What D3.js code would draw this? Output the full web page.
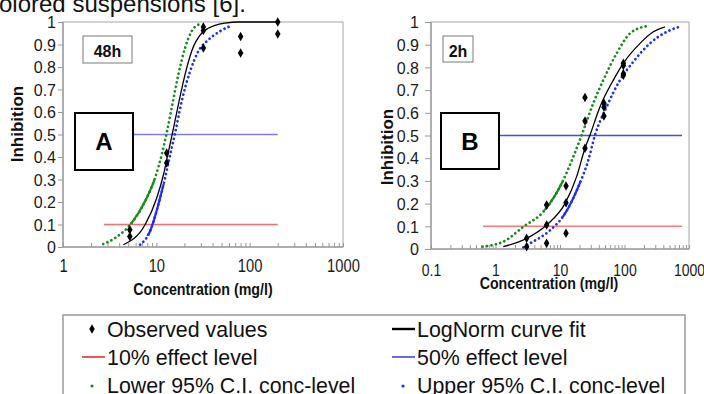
<!DOCTYPE html>
<html>
<head>
<meta charset="utf-8">
<script src="https://cdn.jsdelivr.net/npm/d3@7"></script>
<style>
  body { margin: 0; background: #fff; }
  svg { display: block; font-family: Arial, "Liberation Sans", Helvetica, sans-serif; }
</style>
</head>
<body>
<svg id="chart" width="704" height="394"></svg>
<script>
// ---- data ----
const yTicks = [0, 0.1, 0.2, 0.3, 0.4, 0.5, 0.6, 0.7, 0.8, 0.9, 1];
const xTicksA = [1, 10, 100, 1000];
const xTicksB = [0.1, 1, 10, 100, 1000];
const effectLevels = [0.1, 0.5];
const effectRangeA = [2.75, 200];
const effectRangeB = [0.64, 780];

// panel A (48h): [concentration, inhibition]
const observedA = [[5.2, 0.077], [5.2, 0.047], [12.9, 0.418], [12.9, 0.373], [31.9, 0.978],
  [31.9, 0.962], [31.9, 0.884], [80, 0.936], [80, 0.862], [200, 1.0], [200, 0.947]];
const fitA = [[4.43, 0.01], [7.57, 0.099], [10.1, 0.218], [11.9, 0.32], [13.5, 0.425], [14.9, 0.507],
  [17.2, 0.632], [20.3, 0.766], [23.9, 0.87], [30.7, 0.951], [36, 0.972], [42.6, 0.985],
  [55, 0.995], [75.7, 1.0], [200, 1.0]];
const lowerA = [[2.7, 0.013], [3.61, 0.04], [5.44, 0.107], [7.57, 0.203], [9.68, 0.307], [11.4, 0.41],
  [12.9, 0.507], [14.6, 0.618], [17.2, 0.766], [20.3, 0.884], [23.9, 0.959], [28.9, 0.99]];
const upperA = [[6.69, 0.01], [8.56, 0.07], [10.5, 0.188], [12.4, 0.307], [14.6, 0.44], [15.9, 0.507],
  [18.7, 0.648], [23, 0.781], [28.2, 0.87], [36.1, 0.921], [48.2, 0.959], [64.3, 0.985]];

// panel B (2h)
const observedB = [[3.04, 0.01], [3.04, 0.047], [6.2, 0.025], [6.2, 0.106], [6.2, 0.194],
  [12.4, 0.069], [12.4, 0.204], [12.4, 0.278], [24.4, 0.444], [24.4, 0.564], [24.4, 0.667],
  [48, 0.642], [48, 0.625], [48, 0.586], [96, 0.818], [96, 0.808], [96, 0.772], [96, 0.765]];
const fitB = [[1.32, 0.01], [3.04, 0.047], [6.2, 0.106], [12, 0.201], [18.1, 0.319], [24.4, 0.444],
  [29.2, 0.502], [41.7, 0.627], [67.1, 0.744], [95.8, 0.818], [174, 0.906], [280, 0.957], [425, 0.979]];
const lowerB = [[0.63, 0.01], [0.98, 0.02], [1.32, 0.032], [2.7, 0.098], [5.5, 0.164], [10.6, 0.289],
  [16.1, 0.407], [21.7, 0.502], [32.8, 0.642], [46.9, 0.744], [75.7, 0.862], [122, 0.95], [221, 0.982]];
const upperB = [[2.7, 0.007], [3.43, 0.025], [6.59, 0.076], [12, 0.157], [19.2, 0.274], [27.5, 0.392],
  [34.9, 0.502], [53, 0.627], [85.1, 0.744], [137, 0.825], [248, 0.906], [478, 0.96], [771, 0.982]];

const legendLabels = ['Observed values', 'LogNorm curve fit', '10% effect level',
  '50% effect level', 'Lower 95% C.I. conc-level', 'Upper 95% C.I. conc-level'];

// ---- drawing ----
const svg = d3.select('#chart');
const FONT = 'Arial, "Liberation Sans", Helvetica, sans-serif';
let clipId = 0;

// caption of the page cut at the top
svg.append('text').attr('x', -13).attr('y', 12)
  .attr('font-size', 24).attr('fill', '#111')
  .text('colored suspensions [6].');

function minorTicks(domain) {
  const out = [];
  for (let e = Math.log10(domain[0]); e < Math.log10(domain[1]); e++) {
    for (let m = 1; m < 10; m++) out.push(m * Math.pow(10, e));
  }
  out.push(domain[1]);
  return out;
}

function drawPanel(p) {
  const x = d3.scaleLog().domain(p.xDomain).range([p.left, p.right]);
  const y = d3.scaleLinear().domain([0, 1]).range([p.bottom, p.top]);
  const g = svg.append('g');

  // frame
  g.append('rect').attr('x', p.left).attr('y', p.top)
    .attr('width', p.right - p.left).attr('height', p.bottom - p.top)
    .attr('fill', 'none').attr('stroke', '#a6a6a6').attr('stroke-width', 1);
  g.append('line').attr('x1', p.left).attr('x2', p.right).attr('y1', p.bottom).attr('y2', p.bottom)
    .attr('stroke', '#8a8a8a');
  g.append('line').attr('x1', p.left).attr('x2', p.left).attr('y1', p.top).attr('y2', p.bottom)
    .attr('stroke', '#8a8a8a');

  // x ticks (inside, log minors)
  const xTickAxis = g.append('g').attr('transform', `translate(0,${p.bottom})`)
    .call(d3.axisBottom(x).tickValues(minorTicks(p.xDomain)).tickSize(-4).tickFormat(''));
  xTickAxis.select('.domain').remove();
  xTickAxis.selectAll('line').attr('stroke', '#999');

  // x labels
  const xLab = g.append('g').attr('transform', `translate(0,${p.bottom})`)
    .call(d3.axisBottom(x).tickValues(p.xTicks).tickSize(0).tickFormat(d => String(d)));
  xLab.select('.domain').remove();
  xLab.selectAll('text')
    .attr('y', p.xLabelBase - p.bottom).attr('dy', 0)
    .attr('transform', `scale(${p.xLabelScale},1)`)
    .attr('font-size', p.xLabelSize).attr('font-family', FONT).attr('fill', '#1a1a1a');

  // y axis
  const yAx = g.append('g').attr('transform', `translate(${p.left},0)`)
    .call(d3.axisLeft(y).tickValues(yTicks).tickSize(p.yTickSize).tickPadding(p.yPad)
      .tickFormat(d => String(+d.toFixed(1))));
  yAx.select('.domain').remove();
  yAx.selectAll('line').attr('stroke', '#999');
  yAx.selectAll('text').attr('font-size', 16).attr('font-family', FONT).attr('fill', '#1a1a1a')
    .attr('dy', '0.36em');

  // axis titles
  g.append('text')
    .attr('transform', `translate(${p.xTitle[0]},${p.xTitle[1]}) scale(${p.xTitleScale},1)`)
    .attr('text-anchor', 'middle').attr('font-weight', 'bold')
    .attr('font-size', p.xTitleSize).attr('fill', '#111')
    .text('Concentration (mg/l)');
  g.append('text')
    .attr('transform', `translate(${p.yTitle[0]},${p.yTitle[1]}) rotate(-90)`)
    .attr('text-anchor', 'middle').attr('font-weight', 'bold')
    .attr('font-size', 17).attr('fill', '#111')
    .text('Inhibition');

  // effect levels
  g.selectAll('line.level').data(effectLevels).join('line').attr('class', 'level')
    .attr('x1', x(p.effectRange[0])).attr('x2', x(p.effectRange[1]))
    .attr('y1', d => y(d)).attr('y2', d => y(d))
    .attr('stroke', d => d === 0.1 ? p.redColor : p.blueColor)
    .attr('stroke-width', 1.4);

  const line = d3.line().x(d => x(d[0])).y(d => y(d[1])).curve(d3.curveMonotoneX);

  // confidence curves: dotted, with a dense (solid-looking) band
  [[p.lower, '#1c8a1c', p.lowerSolid], [p.upper, '#1f2cff', p.upperSolid]].forEach(([pts, col, band]) => {
    g.append('path').attr('d', line(pts)).attr('fill', 'none')
      .attr('stroke', col).attr('stroke-width', 2.7)
      .attr('stroke-linecap', 'round').attr('stroke-dasharray', '0.1 4.4');
    const id = 'clip' + (clipId++);
    svg.append('clipPath').attr('id', id).append('rect')
      .attr('x', p.left).attr('width', p.right - p.left)
      .attr('y', y(band[1])).attr('height', y(band[0]) - y(band[1]));
    g.append('path').attr('d', line(pts)).attr('fill', 'none')
      .attr('stroke', col).attr('stroke-width', 2.2)
      .attr('clip-path', `url(#${id})`);
  });

  // fit
  g.append('path').attr('d', line(p.fit)).attr('fill', 'none')
    .attr('stroke', '#000').attr('stroke-width', 1.3);

  // observed
  g.selectAll('path.obs').data(p.observed).join('path').attr('class', 'obs')
    .attr('transform', d => `translate(${x(d[0])},${y(d[1])})`)
    .attr('d', d3.symbol(d3.symbolDiamond, 26))
    .attr('fill', '#000');

  // time tag box
  g.append('rect').attr('x', p.tagBox[0]).attr('y', p.tagBox[1])
    .attr('width', p.tagBox[2]).attr('height', p.tagBox[3])
    .attr('fill', '#fff').attr('stroke', '#7a7a7a').attr('stroke-width', 1);
  g.append('text').attr('x', p.tagBox[0] + p.tagBox[2] / 2).attr('y', p.tagBox[1] + 21)
    .attr('text-anchor', 'middle').attr('font-weight', 'bold').attr('font-size', 16)
    .attr('fill', '#111').text(p.tag);

  // panel letter box
  g.append('rect').attr('x', p.letterBox[0]).attr('y', p.letterBox[1])
    .attr('width', p.letterBox[2]).attr('height', p.letterBox[3])
    .attr('fill', '#fff').attr('stroke', '#000').attr('stroke-width', 2);
  g.append('text').attr('x', p.letterBox[0] + p.letterBox[2] / 2).attr('y', 150)
    .attr('text-anchor', 'middle').attr('font-weight', 'bold').attr('font-size', 24)
    .attr('fill', '#000').text(p.letter);
}

drawPanel({
  left: 63, right: 343, top: 22, bottom: 247, xDomain: [1, 1000], xTicks: xTicksA,
  xLabelBase: 272, xLabelSize: 18, xLabelScale: 0.82,
  yTickSize: 5, yPad: 2,
  xTitle: [203, 295], xTitleSize: 17, xTitleScale: 0.84,
  yTitle: [23, 124],
  effectRange: effectRangeA, redColor: '#ff6b6b', blueColor: '#7c7cf6',
  observed: observedA, fit: fitA, lower: lowerA, upper: upperA,
  lowerSolid: [0.1, 0.3], upperSolid: [0.05, 0.28],
  tag: '48h', tagBox: [83, 36, 49, 27],
  letter: 'A', letterBox: [75, 113, 58, 57]
});

drawPanel({
  left: 431, right: 689, top: 22, bottom: 249, xDomain: [0.1, 1000], xTicks: xTicksB,
  xLabelBase: 276, xLabelSize: 16.5, xLabelScale: 0.85,
  yTickSize: 6, yPad: 6,
  xTitle: [549, 289], xTitleSize: 16.5, xTitleScale: 0.86,
  yTitle: [393, 147],
  effectRange: effectRangeB, redColor: '#ff7777', blueColor: '#4a4ad8',
  observed: observedB, fit: fitB, lower: lowerB, upper: upperB,
  lowerSolid: [0.17, 0.3], upperSolid: [0.14, 0.3],
  tag: '2h', tagBox: [443, 36, 30, 26],
  letter: 'B', letterBox: [441, 113, 58, 56]
});

// ---- legend ----
const lg = svg.append('g');
lg.append('rect').attr('x', 63).attr('y', 315).attr('width', 622).attr('height', 100)
  .attr('fill', '#fff').attr('stroke', '#9a9a9a').attr('stroke-width', 1.5);

const colX = [92, 403];
const textX = [107, 417];
const rowY = [329, 357, 385];
legendLabels.forEach((label, i) => {
  const c = i % 2, r = Math.floor(i / 2);
  const cy = rowY[r];
  const item = lg.append('g');
  if (i === 0) {
    item.append('path').attr('transform', `translate(${colX[c]},${cy})`)
      .attr('d', d3.symbol(d3.symbolDiamond, 26)).attr('fill', '#000');
  } else if (i === 1 || i === 2 || i === 3) {
    const col = i === 1 ? '#000' : i === 2 ? '#e00000' : '#1a1ad0';
    item.append('line').attr('x1', textX[c] - 25).attr('x2', textX[c] - 2)
      .attr('y1', cy).attr('y2', cy).attr('stroke', col)
      .attr('stroke-width', i === 1 ? 2.4 : 1.3);
  } else {
    item.append('circle').attr('cx', colX[c]).attr('cy', cy + 1).attr('r', 1.6)
      .attr('fill', i === 4 ? '#1c8a1c' : '#1f2cff');
  }
  item.append('text')
    .attr('transform', `translate(${textX[c]},${cy + 8}) scale(0.93,1)`)
    .attr('font-size', 23).attr('fill', '#111').text(label);
});
</script>
</body>
</html>
